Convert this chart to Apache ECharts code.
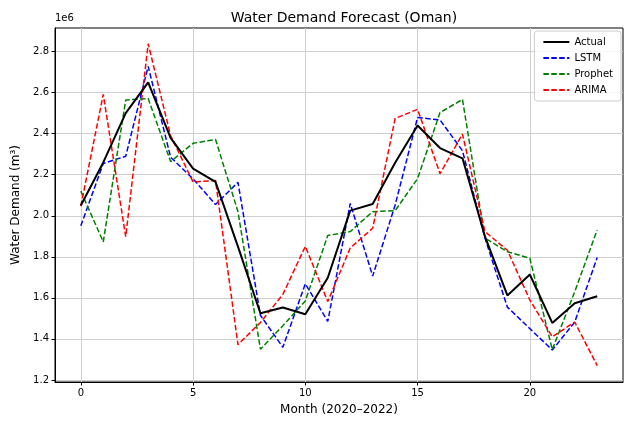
<!DOCTYPE html>
<html>
<head>
<meta charset="utf-8">
<script src="https://cdn.jsdelivr.net/npm/echarts@6/dist/echarts.min.js"></script>
<style>
  html, body { margin: 0; padding: 0; background: #fff; }
  #chart { width: 624px; height: 421px; }
</style>
</head>
<body>
<div id="chart"></div>
<script>
// Monthly water demand (m³), Jan 2020 onwards, and three model forecasts
const months = Array.from({ length: 24 }, (_, i) => i);
const actual = [2.05, 2.26, 2.50, 2.65, 2.38, 2.23, 2.165, 1.85, 1.525, 1.553, 1.52, 1.698,
                2.025, 2.057, 2.258, 2.44, 2.33, 2.28, 1.90, 1.612, 1.714, 1.478, 1.574, 1.608];
const lstm = [1.951, 2.255, 2.29, 2.728, 2.285, 2.18, 2.055, 2.163, 1.515, 1.359, 1.669, 1.485,
              2.06, 1.706, 2.052, 2.479, 2.467, 2.317, 1.891, 1.555, 1.45, 1.346, 1.482, 1.797];
const prophet = [2.12, 1.873, 2.564, 2.571, 2.264, 2.353, 2.372, 2.02, 1.35, 1.464, 1.585, 1.904,
                 1.923, 2.02, 2.025, 2.181, 2.503, 2.567, 1.891, 1.825, 1.793, 1.348, 1.63, 1.931];
const arima = [2.047, 2.591, 1.898, 2.838, 2.39, 2.165, 2.172, 1.372, 1.48, 1.617, 1.851, 1.582,
               1.843, 1.939, 2.474, 2.519, 2.205, 2.398, 1.923, 1.832, 1.59, 1.41, 1.482, 1.27];
const SCALE = 1e6;
const xTicks = [0, 5, 10, 15, 20];
const yTicks = [1.2, 1.4, 1.6, 1.8, 2.0, 2.2, 2.4, 2.6, 2.8];

const toPairs = arr => months.map((m, i) => [m, arr[i] * SCALE]);
const FONT = 'DejaVu Sans';
const dash = [5.5, 2.4];

const chart = echarts.init(document.getElementById('chart'), null, { renderer: 'canvas' });

function lineSeries(name, data, color, width, type) {
  return {
    name, type: 'line', data: toPairs(data),
    symbol: 'none', showSymbol: false, animation: false,
    lineStyle: { color, width, type },
    itemStyle: { color },
    z: name === 'Actual' ? 5 : 3
  };
}

chart.setOption({
  animation: false,
  textStyle: { fontFamily: FONT },
  title: {
    text: 'Water Demand Forecast (Oman)',
    left: 339, top: 6, textAlign: 'center',
    textStyle: { fontFamily: FONT, fontSize: 14, fontWeight: 'normal', color: '#000' }
  },
  grid: {
    left: 55, right: 1, top: 28, bottom: 36,
    show: true, borderColor: '#000', borderWidth: 1, backgroundColor: 'transparent'
  },
  legend: {
    orient: 'vertical', right: 3, top: 31,
    data: ['Actual', 'LSTM', 'Prophet', 'ARIMA'],
    itemWidth: 26, itemHeight: 10, itemGap: 6,
    padding: [6, 8, 6, 8],
    backgroundColor: 'rgba(255,255,255,0.8)',
    borderColor: '#cccccc', borderWidth: 1, borderRadius: 3,
    itemStyle: { opacity: 0 },
    textStyle: { fontFamily: FONT, fontSize: 10, color: '#000' }
  },
  xAxis: {
    type: 'value', min: -1.15, max: 24.15,
    name: 'Month (2020–2022)', nameLocation: 'middle', nameGap: 22,
    nameTextStyle: { fontFamily: FONT, fontSize: 12, color: '#000' },
    axisLine: { show: true, onZero: false, lineStyle: { color: '#000' } },
    axisTick: { show: true, customValues: xTicks, length: 3.5, lineStyle: { color: '#000' } },
    axisLabel: { customValues: xTicks, fontFamily: FONT, fontSize: 10, color: '#000', margin: 6 },
    splitLine: { show: true, lineStyle: { color: '#cfcfcf', width: 1 } }
  },
  yAxis: {
    type: 'value', min: 1.19 * SCALE, max: 2.915 * SCALE,
    name: 'Water Demand (m³)', nameLocation: 'middle', nameGap: 17, nameRotate: 90,
    nameTextStyle: { fontFamily: FONT, fontSize: 12, color: '#000' },
    axisLine: { show: true, onZero: false, lineStyle: { color: '#000' } },
    axisTick: { show: true, customValues: yTicks.map(v => v * SCALE), length: 3.5, lineStyle: { color: '#000' } },
    axisLabel: {
      customValues: yTicks.map(v => v * SCALE),
      fontFamily: FONT, fontSize: 10, color: '#000', margin: 6,
      formatter: v => (v / SCALE).toFixed(1)
    },
    splitLine: { show: true, lineStyle: { color: '#cfcfcf', width: 1 } }
  },
  graphic: [{
    type: 'text', left: 55, top: 13,
    style: { text: '1e6', fontFamily: FONT, fontSize: 10, fill: '#000' }
  }],
  series: [
    lineSeries('Actual', actual, '#000000', 2, 'solid'),
    lineSeries('LSTM', lstm, '#0000ff', 1.5, dash),
    lineSeries('Prophet', prophet, '#008000', 1.5, dash),
    lineSeries('ARIMA', arima, '#ff0000', 1.5, dash)
  ]
});
</script>
</body>
</html>
